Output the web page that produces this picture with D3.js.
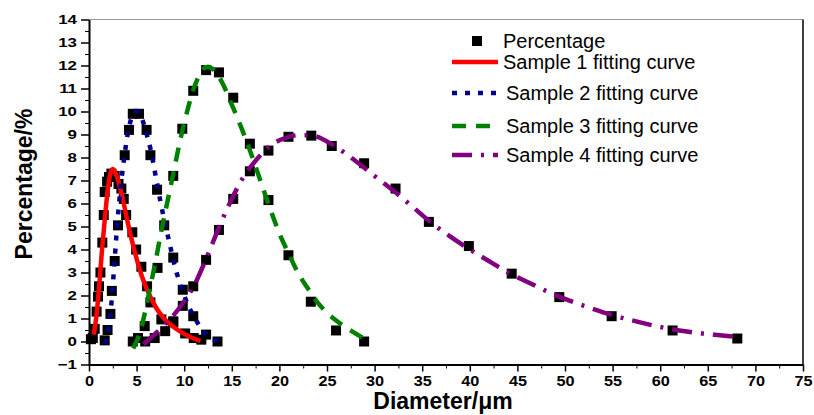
<!DOCTYPE html>
<html>
<head>
<meta charset="utf-8">
<script src="https://cdn.jsdelivr.net/npm/d3@7"></script>
<style>
  body { margin: 0; background: #fff; }
  svg { display: block; font-family: Arial, "Liberation Sans", sans-serif; }
  .axis path, .axis line { stroke: #000; }
  .axis text { fill: #000; font-weight: bold; }
</style>
</head>
<body>
<svg id="chart" width="814" height="415"></svg>
<script>
// measured points (Percentage) for each sample
const s1X = [0.2, 0.4, 0.6, 0.8, 0.95, 1.05, 1.2, 1.4, 1.55, 1.65, 1.9, 2.1, 2.35, 2.7, 3.1, 3.4, 3.65, 3.9, 4.55, 4.95, 5.5, 6.1, 6.45, 7.6, 8.85, 10.1, 11.0, 11.8]
const s1Y = [0.1, 0.15, 0.55, 1.3, 1.95, 2.4, 3.0, 4.3, 5.5, 6.5, 6.95, 7.15, 7.3, 7.2, 6.85, 6.65, 6.2, 5.5, 4.75, 4.0, 3.25, 2.4, 1.7, 0.96, 0.84, 0.35, 0.15, 0.08]

const s2X = [1.65, 1.95, 2.25, 2.4, 2.7, 3.05, 3.75, 4.2, 4.6, 5.25, 6.05, 6.45, 7.15, 7.9, 8.85, 9.85, 10.95, 12.3, 13.5]
const s2Y = [0.05, 0.5, 1.2, 2.2, 3.5, 5.05, 8.1, 9.2, 9.9, 9.9, 9.2, 8.1, 6.6, 5.05, 3.65, 2.25, 1.1, 0.3, 0.0]

const s3X = [4.6, 5.15, 5.85, 7.2, 8.85, 9.8, 10.95, 12.3, 13.65, 15.15, 16.9, 18.85, 20.95, 23.3, 25.95, 28.9]
const s3Y = [0.0, 0.15, 0.67, 3.2, 7.2, 9.25, 10.9, 11.8, 11.7, 10.6, 8.6, 6.15, 3.75, 1.73, 0.48, 0.0]

const s4X = [5.9, 6.9, 8.0, 8.85, 9.85, 10.95, 12.3, 13.65, 15.15, 16.9, 18.85, 20.95, 23.35, 25.5, 28.9, 32.2, 35.7, 39.9, 44.4, 49.4, 54.9, 61.3, 68.1]
const s4Y = [0.0, 0.15, 0.45, 0.88, 1.55, 2.4, 3.55, 4.85, 6.2, 7.4, 8.3, 8.9, 8.95, 8.5, 7.75, 6.65, 5.2, 4.15, 2.95, 1.93, 1.1, 0.48, 0.13]

// fitting curves
const c1X = [0.5, 0.8, 1.05, 1.35, 1.7, 2.0, 2.25, 2.5, 2.8, 3.2, 3.6, 4.0, 4.5, 5.0, 5.5, 6.0, 6.5, 7.0, 8.0, 9.0, 10.0, 11.0, 11.7]
const c1Y = [0.3, 1.2, 2.3, 3.9, 5.5, 6.7, 7.3, 7.5, 7.3, 6.8, 6.1, 5.3, 4.4, 3.6, 2.9, 2.35, 1.9, 1.5, 0.95, 0.6, 0.33, 0.13, 0.02]

const c2X = [1.7, 2.0, 2.3, 2.6, 2.95, 3.3, 3.7, 4.1, 4.5, 5.0, 5.5, 6.0, 6.5, 7.0, 7.5, 8.0, 8.5, 9.0, 9.5, 10.0, 10.5, 11.0, 11.5, 12.0, 12.5, 13.0, 13.5]
const c2Y = [-0.1, 0.4, 1.4, 3.0, 5.0, 6.6, 8.0, 9.1, 9.75, 10.0, 9.75, 9.1, 8.3, 7.2, 6.1, 5.1, 4.2, 3.3, 2.6, 2.0, 1.5, 1.1, 0.75, 0.45, 0.25, 0.1, 0.02]

const c3X = [4.65, 5.5, 6.0, 6.5, 7.0, 7.5, 8.0, 8.5, 9.0, 9.5, 10.0, 10.5, 11.0, 11.5, 12.0, 12.5, 13.0, 13.5, 14.0, 15.0, 16.0, 17.0, 18.0, 19.0, 20.0, 21.0, 22.0, 23.0, 24.0, 25.0, 26.0, 27.0, 28.0, 29.0]
const c3Y = [-0.3, 0.6, 1.5, 2.5, 3.5, 4.6, 5.6, 6.6, 7.6, 8.6, 9.5, 10.3, 11.0, 11.5, 11.85, 11.95, 11.85, 11.6, 11.25, 10.3, 9.3, 8.2, 7.0, 5.8, 4.7, 3.8, 2.95, 2.3, 1.7, 1.25, 0.9, 0.6, 0.35, 0.1]

const c4X = [5.75, 7, 8, 9, 10, 11, 12, 13, 14, 15, 16, 17, 18, 19, 20, 21, 22, 23, 24, 25, 26, 28, 30, 32, 34, 36, 38, 40, 42, 44, 46, 48, 50, 52, 54, 56, 58, 60, 62, 64, 66, 68]
const c4Y = [-0.12, 0.35, 0.75, 1.2, 1.75, 2.4, 3.3, 4.3, 5.3, 6.2, 7.0, 7.6, 8.1, 8.5, 8.75, 8.9, 8.97, 8.97, 8.9, 8.7, 8.45, 7.85, 7.2, 6.55, 5.85, 5.15, 4.55, 4.0, 3.5, 3.0, 2.6, 2.2, 1.85, 1.55, 1.27, 1.03, 0.82, 0.63, 0.48, 0.37, 0.28, 0.2]

const legendLabels = ['Percentage', 'Sample 1 fitting curve', 'Sample 2 fitting curve', 'Sample 3 fitting curve', 'Sample 4 fitting curve']
const xTicks = d3.range(0, 76, 5)
const yTicks = d3.range(-1, 15, 1)

const svg = d3.select('#chart')
const margin = { left: 89, right: 803, top: 19.5, bottom: 364.5 }

const x = d3.scaleLinear().domain([0, 75]).range([margin.left, margin.right])
const y = d3.scaleLinear().domain([-1, 14]).range([margin.bottom, margin.top])

const zip = (xs, ys) => xs.map((d, i) => [d, ys[i]])

const curves = [
	{ pts: zip(c1X, c1Y), color: '#ff0000', dash: null, w: 4.5 },
	{ pts: zip(c2X, c2Y), color: '#00008b', dash: '5,8', w: 4.5 },
	{ pts: zip(c3X, c3Y), color: '#008000', dash: '14,10', w: 4.5 },
	{ pts: zip(c4X, c4Y), color: '#800080', dash: '20,9,3,9', w: 4.5 }
]
const points = [].concat(zip(s1X, s1Y), zip(s2X, s2Y), zip(s3X, s3Y), zip(s4X, s4Y))

// frame
svg.append('line').attr('x1', margin.left).attr('x2', margin.right).attr('y1', margin.top).attr('y2', margin.top)
	.attr('stroke', '#999').attr('stroke-width', 1)
svg.append('line').attr('x1', margin.right).attr('x2', margin.right).attr('y1', margin.top).attr('y2', margin.bottom)
	.attr('stroke', '#000').attr('stroke-width', 1.5)

// axes
const xMinor = d3.range(2.5, 75, 5)
const yMinor = d3.range(-0.5, 14, 1)

svg.append('g').attr('class', 'axis').attr('transform', `translate(0,${margin.bottom})`)
	.call(d3.axisBottom(x).tickValues(xMinor).tickSize(4).tickFormat(''))
	.call(g => g.select('.domain').remove())
svg.append('g').attr('class', 'axis').attr('transform', `translate(${margin.left},0)`)
	.call(d3.axisLeft(y).tickValues(yMinor).tickSize(4).tickFormat(''))
	.call(g => g.select('.domain').remove())

const xAxis = svg.append('g').attr('class', 'axis').attr('transform', `translate(0,${margin.bottom})`)
	.call(d3.axisBottom(x).tickValues(xTicks).tickSize(7).tickPadding(4).tickSizeOuter(0))
xAxis.selectAll('text').style('font-size', '14.5px')
	.attr('transform', 'scale(1.12,1)')
xAxis.selectAll('line').attr('stroke-width', 1.5)
xAxis.select('.domain').attr('stroke-width', 2)

const ySx = 1.3
const yAxis = svg.append('g').attr('class', 'axis').attr('transform', `translate(${margin.left},0)`)
	.call(d3.axisLeft(y).tickValues(yTicks).tickSize(8).tickPadding(4).tickSizeOuter(0))
yAxis.selectAll('text').style('font-size', '13px')
	.attr('x', -12 / ySx)
	.attr('transform', `scale(${ySx},1)`)
yAxis.selectAll('line').attr('stroke-width', 1.5)
yAxis.select('.domain').attr('stroke-width', 2)

// axis titles
svg.append('text')
	.attr('transform', 'translate(32,184) rotate(-90)')
	.attr('text-anchor', 'middle')
	.style('font-size', '23px').style('font-weight', 'bold')
	.text('Percentage/%')

svg.append('text')
	.attr('x', 443).attr('y', 409)
	.attr('text-anchor', 'middle')
	.style('font-size', '23px').style('font-weight', 'bold')
	.text('Diameter/μm')

// data points
const sq = 10
svg.append('g').selectAll('rect').data(points).enter().append('rect')
	.attr('x', d => x(d[0]) - sq / 2)
	.attr('y', d => y(d[1]) - sq / 2)
	.attr('width', sq).attr('height', sq)
	.attr('fill', '#000')

// fitting curves
const line = d3.line().x(d => x(d[0])).y(d => y(d[1])).curve(d3.curveMonotoneX)
svg.append('g').selectAll('path').data(curves).enter().append('path')
	.attr('d', d => line(d.pts))
	.attr('fill', 'none')
	.attr('stroke', d => d.color)
	.attr('stroke-width', d => d.w)
	.attr('stroke-dasharray', d => d.dash)

// legend
const legendY = [41, 62, 93, 126, 155]
const legendTx = [503, 503, 506, 506, 506]
const legend = svg.append('g')
legend.append('rect').attr('x', 472).attr('y', legendY[0] - 5).attr('width', 10).attr('height', 10).attr('fill', '#000')
curves.forEach((c, i) => {
	legend.append('line')
		.attr('x1', 452).attr('x2', 498)
		.attr('y1', legendY[i + 1]).attr('y2', legendY[i + 1])
		.attr('stroke', c.color).attr('stroke-width', c.w)
		.attr('stroke-dasharray', c.dash)
})
legend.selectAll('text').data(legendLabels).enter().append('text')
	.attr('x', (d, i) => legendTx[i])
	.attr('y', (d, i) => legendY[i] + 7)
	.style('font-size', '20px')
	.text(d => d)
</script>
</body>
</html>
